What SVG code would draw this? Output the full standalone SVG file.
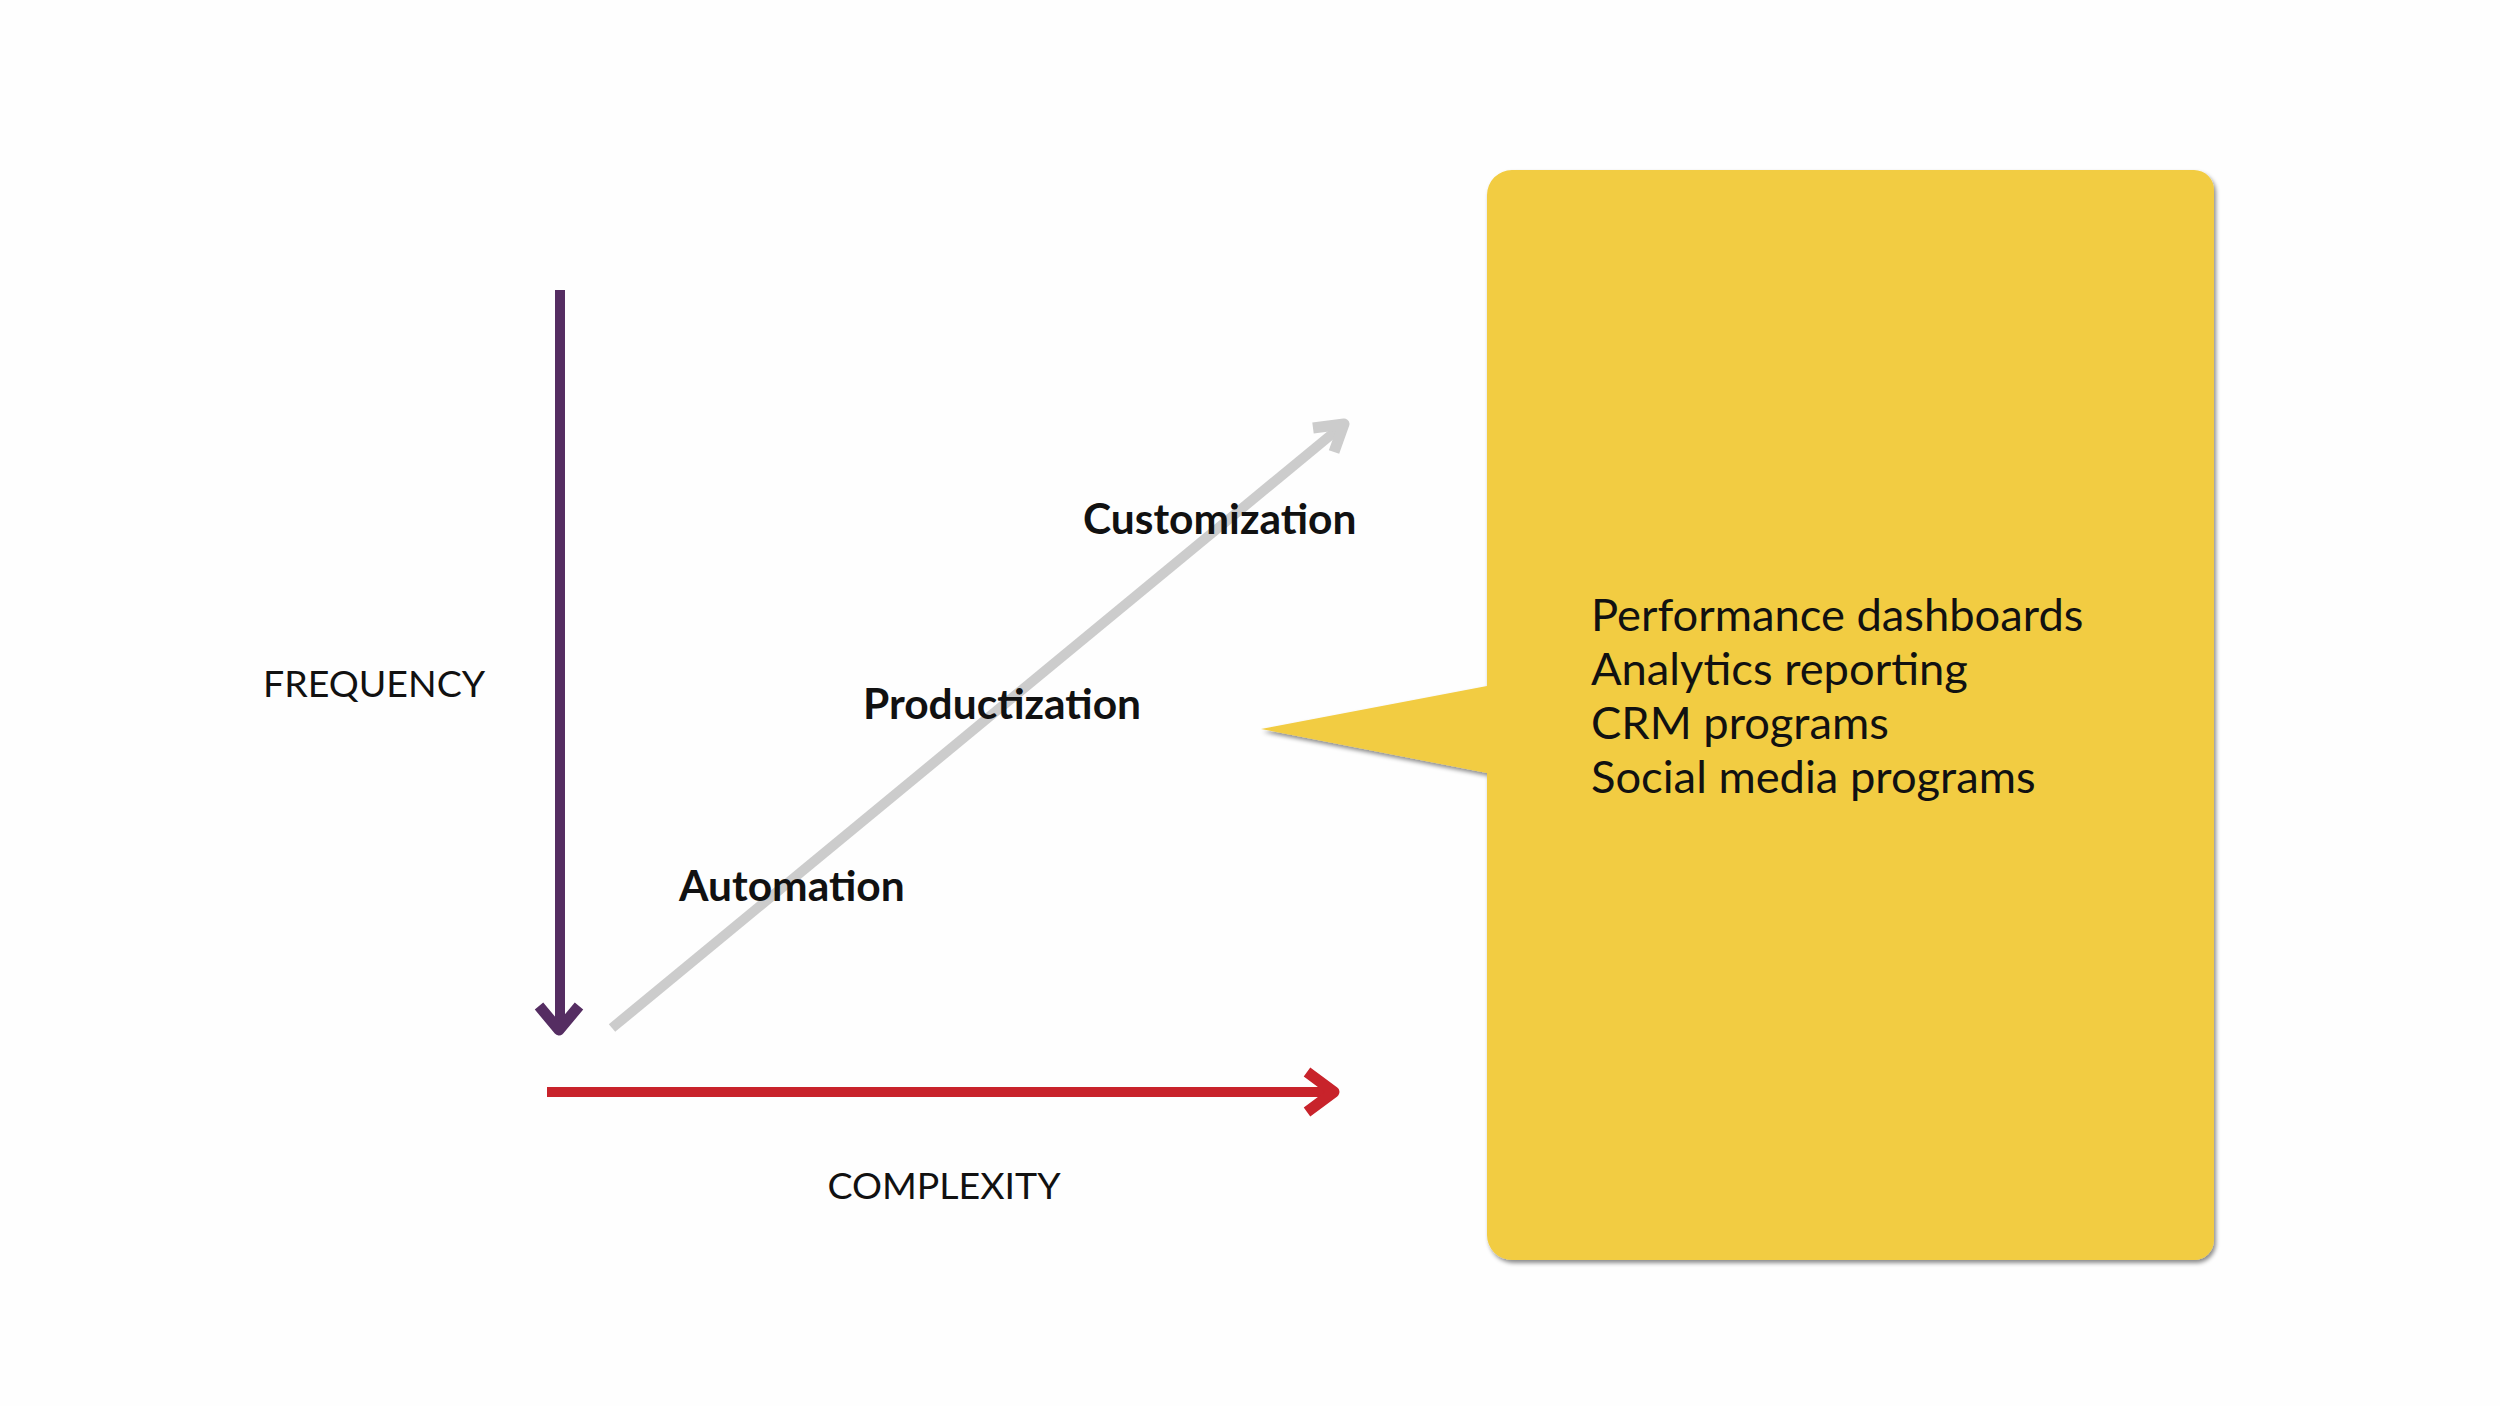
<svg xmlns="http://www.w3.org/2000/svg" width="2500" height="1406" viewBox="0 0 2500 1406">
<defs>
<style>
.lbl{font-family:Lato,"Noto Sans","Liberation Sans",sans-serif;fill:#111;}
.axis{font-size:37.5px;font-weight:400;}
.stage{font-size:42.5px;font-weight:700;}
.item{font-size:45.3px;font-weight:400;}
.ln{fill:none;stroke-linecap:butt;stroke-linejoin:round;}
</style>
<filter id="sh" x="-5%" y="-5%" width="110%" height="110%">
<feDropShadow dx="2" dy="3" stdDeviation="2" flood-color="#000" flood-opacity="0.45"/>
</filter>
</defs>
<rect width="2500" height="1406" fill="#fefefe"/>
<g id="connectors">
<line class="ln" x1="560" y1="290" x2="560" y2="1028" stroke="#552d62" stroke-width="10"/>
<polyline class="ln" points="539,1006 559,1030 579,1006" stroke="#552d62" stroke-width="11"/>
<line class="ln" x1="547" y1="1092" x2="1332" y2="1092" stroke="#c8232b" stroke-width="10"/>
<polyline class="ln" points="1307,1072 1334,1092 1307,1112" stroke="#c8232b" stroke-width="11"/>
<line class="ln" x1="612" y1="1028" x2="1343" y2="425" stroke="#cccccc" stroke-width="10"/>
<polyline class="ln" points="1313,428 1344,424 1334,452" stroke="#cccccc" stroke-width="11"/>
</g>
<g id="callout">
<path d="M1512,170 H2194 A20,20 0 0 1 2214,190 V1240 A20,20 0 0 1 2194,1260 H1512 A25,25 0 0 1 1487,1235 V773 L1261,729 L1487,686 V195 A25,25 0 0 1 1512,170 Z" fill="#f2cc43" filter="url(#sh)"/>
<text class="lbl item" x="1591" y="631">Performance dashboards</text>
<text class="lbl item" x="1591" y="685">Analytics reporting</text>
<text class="lbl item" x="1591" y="739">CRM programs</text>
<text class="lbl item" x="1591" y="793">Social media programs</text>
</g>
<g id="frequency-label"><text class="lbl axis" x="263" y="697">FREQUENCY</text></g>
<g id="complexity-label"><text class="lbl axis" x="944" y="1199" text-anchor="middle">COMPLEXITY</text></g>
<g id="automation"><text class="lbl stage" x="679" y="901">Automation</text></g>
<g id="productization"><text class="lbl stage" x="863" y="719">Productization</text></g>
<g id="customization"><text class="lbl stage" x="1083" y="534">Customization</text></g>
</svg>
